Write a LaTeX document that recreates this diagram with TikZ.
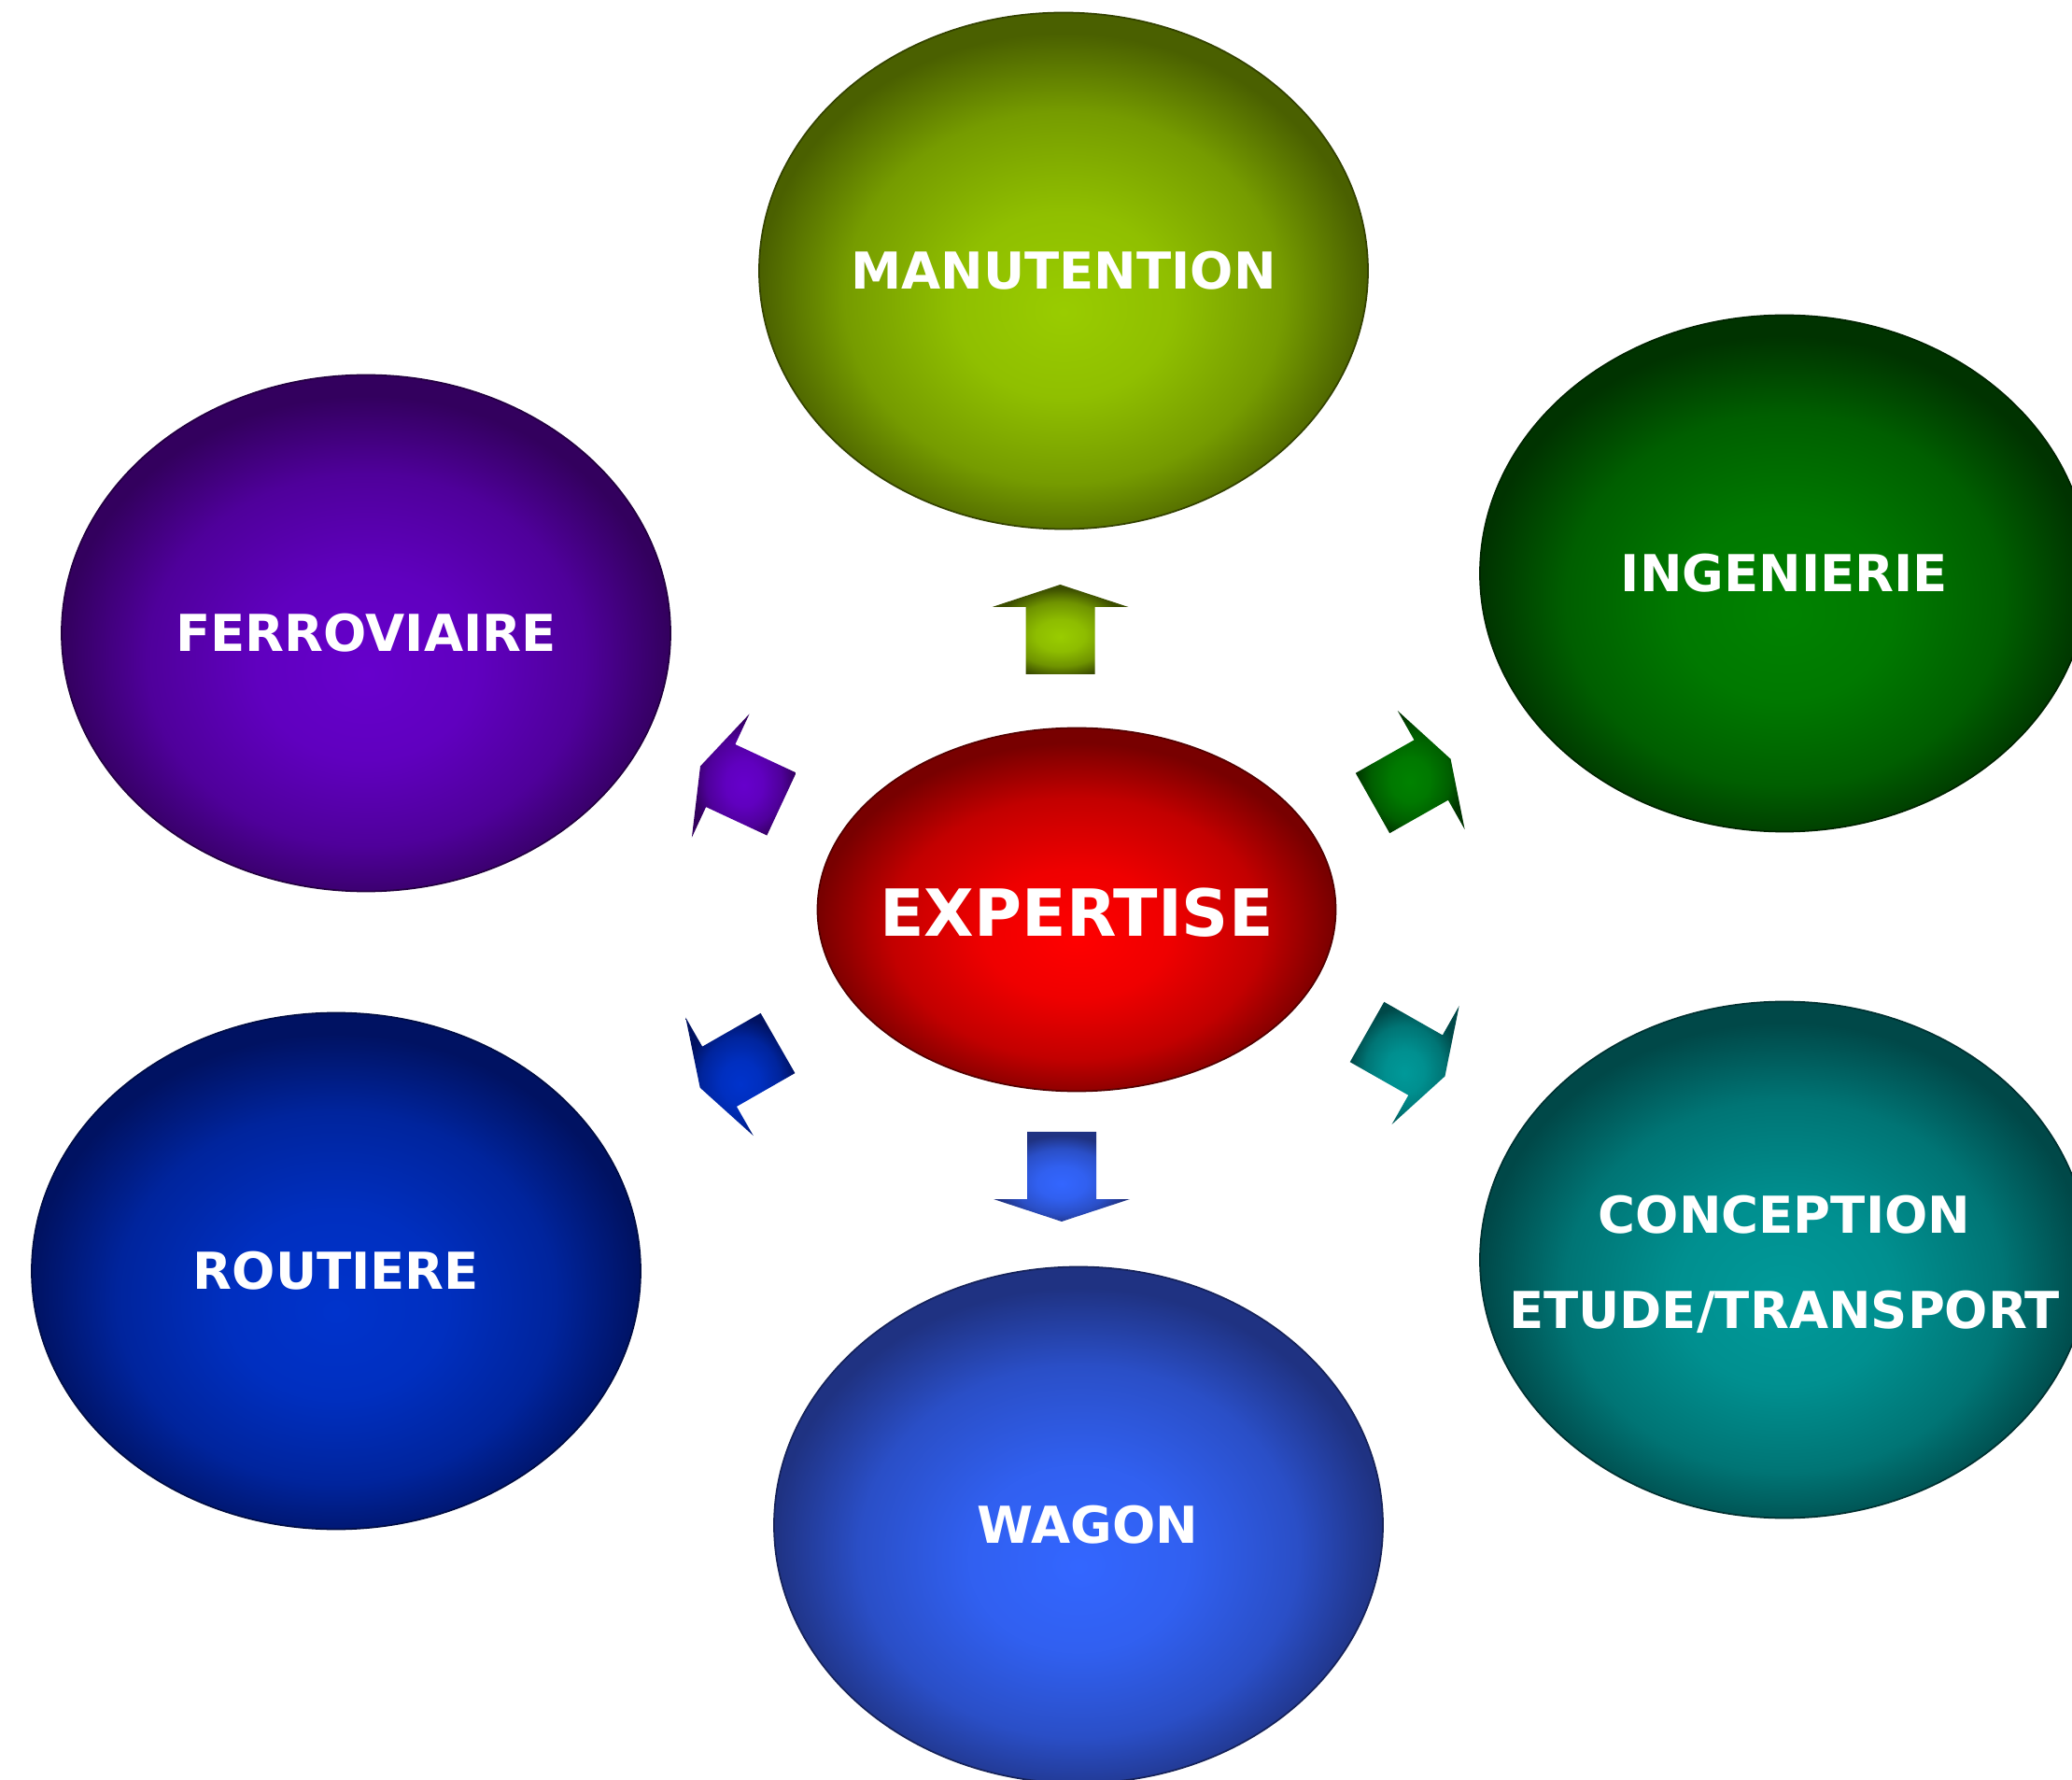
\documentclass[tikz,border=0pt]{standalone}
\usepackage{fontspec}
\setmainfont{DejaVu Sans}
\usetikzlibrary{shapes.geometric}

%couleurs (interieur / bord)
\definecolor{manIn}{HTML}{99CC00}  \definecolor{manOut}{HTML}{4A6000}
\definecolor{ferIn}{HTML}{6600CC}  \definecolor{ferOut}{HTML}{33005E}
\definecolor{ingIn}{HTML}{008200}  \definecolor{ingOut}{HTML}{003300}
\definecolor{expIn}{HTML}{FF0000}  \definecolor{expOut}{HTML}{780000}
\definecolor{rouIn}{HTML}{0033CC}  \definecolor{rouOut}{HTML}{001262}
\definecolor{conIn}{HTML}{009999}  \definecolor{conOut}{HTML}{004848}
\definecolor{wagIn}{HTML}{3366FF}  \definecolor{wagOut}{HTML}{1F3282}

\colorlet{glowin}{white}\colorlet{glowout}{black}
\pgfdeclareradialshading[glowin,glowout]{glow}{\pgfpoint{0bp}{-4bp}}%
  {color(0bp)=(glowin); color(9bp)=(glowin!88!glowout); color(18bp)=(glowin!55!glowout);
   color(25bp)=(glowout); color(50bp)=(glowout)}

\tikzset{
  bulle/.style 2 args={ellipse, inner sep=0pt, minimum width=6.52cm, minimum height=5.53cm,
    /utils/exec={\colorlet{glowin}{#1}\colorlet{glowout}{#2}}, shade, shading=glow,
    draw=#2!70!black, line width=0.5pt},
  etiq/.style={text=white, align=center, inner sep=0pt,
    font=\fontsize{15.5}{29}\selectfont\bfseries},
  fleche/.style 2 args={/utils/exec={\colorlet{glowin}{#1}\colorlet{glowout}{#2}},
    shading=glow},
}

%fleche pleine : queue en (0,0), pointe en (0.96,0)
\newcommand\blocfleche[4]{%
  \begin{scope}[shift={(#1)},rotate=#2]
    \shade[fleche={#3}{#4}] (0,-0.37) -- (0.72,-0.37) -- (0.72,-0.73) -- (0.96,0)
      -- (0.72,0.73) -- (0.72,0.37) -- (0,0.37) -- cycle;
  \end{scope}}

\begin{document}
\begin{tikzpicture}
\useasboundingbox (0,0) rectangle (22.19,-19.06);
\clip (0,0) rectangle (22.19,-19.06);

%bulles
\node[bulle={manIn}{manOut}] (man) at (11.39,-2.90) {};
\node[bulle={ferIn}{ferOut}] (fer) at (3.92,-6.78) {};
\node[bulle={ingIn}{ingOut}] (ing) at (19.11,-6.14) {};
\node[bulle={rouIn}{rouOut}] (rou) at (3.60,-13.61) {};
\node[bulle={conIn}{conOut}] (con) at (19.11,-13.49) {};
\node[bulle={wagIn}{wagOut}] (wag) at (11.55,-16.33) {};
%centre
\node[bulle={expIn}{expOut}, minimum width=5.55cm, minimum height=3.89cm] (exp) at (11.53,-9.74) {};
%textes
\node[etiq] (manT) at (man) {MANUTENTION};
\node[etiq] (ferT) at (fer) {FERROVIAIRE};
\node[etiq] (ingT) at (ing) {INGENIERIE};
\node[etiq] (rouT) at (rou) {ROUTIERE};
\node[etiq] (conT) at ([yshift=-0.05cm]con) {CONCEPTION\\ETUDE/TRANSPORT};
\node[etiq] (wagT) at ([xshift=0.1cm]wag) {WAGON};
\node[etiq, font=\fontsize{19.8}{23}\selectfont\bfseries] (expT) at ([yshift=-0.03cm]exp) {EXPERTISE};
%fin

%fleches
\coordinate (qMan) at (11.355,-7.22);
\coordinate (qFer) at (8.37,-8.61);
\coordinate (qIng) at (14.70,-8.60);
\coordinate (qRou) at (8.33,-11.17);
\coordinate (qCon) at (14.64,-11.05);
\coordinate (qWag) at (11.37,-12.12);
\blocfleche{qMan}{90}{manIn}{manOut!80!black}
\blocfleche{qFer}{155}{ferIn}{ferOut}
\blocfleche{qIng}{29.5}{ingIn}{ingOut}
\blocfleche{qRou}{209.8}{rouIn}{rouOut}
\blocfleche{qCon}{-29.6}{conIn}{conOut}
\blocfleche{qWag}{-90}{wagIn}{wagOut}
%fin
\end{tikzpicture}
\end{document}
